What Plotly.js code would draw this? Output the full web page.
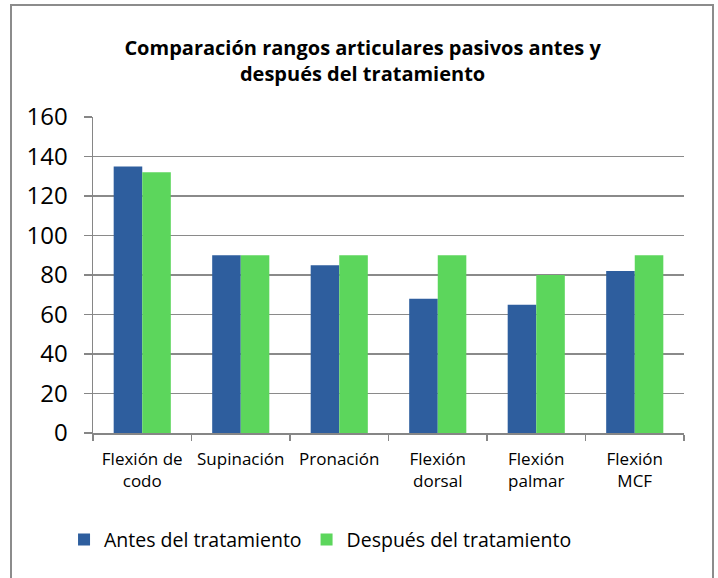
<!DOCTYPE html>
<html>
<head>
<meta charset="utf-8">
<script src="https://cdn.plot.ly/plotly-3.0.1.min.js"></script>
<style>
  html, body { margin: 0; padding: 0; background: #fff; }
  #wrap { position: relative; width: 718px; height: 578px; }
  #chart { width: 718px; height: 578px; }
  #frame { position: absolute; left: 10px; top: 4px; width: 700px; height: 580px; border: 2px solid #8c8c8c; pointer-events: none; }
</style>
</head>
<body>
<div id="wrap">
  <div id="chart"></div>
  <div id="frame"></div>
</div>
<script>
const categories = ["Flexión de<br>codo", "Supinación", "Pronación", "Flexión<br>dorsal", "Flexión<br>palmar", "Flexión<br>MCF"];
const antes = [135, 90, 85, 68, 65, 82];
const despues = [132, 90, 90, 90, 80, 90];
const seriesNames = ["Antes del tratamiento", "Después del tratamiento"];
const yTicks = [0, 20, 40, 60, 80, 100, 120, 140, 160];

const FONT = "Open Sans, Noto Sans, sans-serif";

const traces = [
  {
    type: "bar", name: seriesNames[0], x: categories, y: antes,
    marker: { color: "#2E5E9E", line: { width: 0 } }
  },
  {
    type: "bar", name: seriesNames[1], x: categories, y: despues,
    marker: { color: "#5CD65C", line: { width: 0 } }
  }
];

const layout = {
  width: 718, height: 578,
  autosize: false,
  margin: { l: 93, r: 34, t: 117, b: 145, autoexpand: false },
  paper_bgcolor: "#ffffff",
  plot_bgcolor: "#ffffff",
  barmode: "group",
  bargap: 0.42,
  bargroupgap: 0,
  showlegend: true,
  title: {
    text: "<b>Comparación rangos articulares pasivos antes y<br>después del tratamiento</b>",
    font: { family: FONT, size: 20, color: "#000" },
    x: 0.505, xanchor: "center", xref: "container",
    y: 0.905, yanchor: "middle", yref: "container"
  },
  font: { family: FONT, color: "#000" },
  xaxis: {
    type: "category",
    tickson: "boundaries",
    ticks: "outside", ticklen: 6, tickcolor: "#868686", tickwidth: 1.5,
    showline: true, linecolor: "#868686", linewidth: 1.5,
    showgrid: false,
    automargin: false,
    ticklabelstandoff: 10,
    tickfont: { family: FONT, size: 17, color: "#000" },
    tickangle: 0
  },
  yaxis: {
    range: [0, 160],
    tickvals: yTicks,
    ticks: "outside", ticklen: 8, tickcolor: "#868686", tickwidth: 1.5,
    showline: true, linecolor: "#868686", linewidth: 1.5,
    showgrid: true, gridcolor: "#8a8a8a", gridwidth: 1.5,
    zeroline: false,
    automargin: false,
    ticklabelstandoff: 11,
    tickfont: { family: FONT, size: 24, color: "#000" }
  },
  legend: {
    orientation: "h",
    x: 0.385, xanchor: "center",
    y: -0.338, yanchor: "middle",
    font: { family: FONT, size: 19.5, color: "#000" },
    traceorder: "normal"
  }
};

Plotly.newPlot("chart", traces, layout, { staticPlot: true, displayModeBar: false });
</script>
</body>
</html>
